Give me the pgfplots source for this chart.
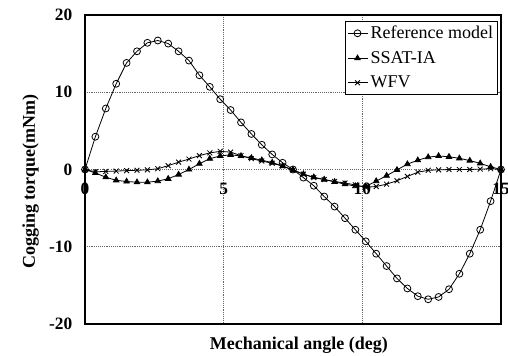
\documentclass[border=0pt]{standalone}
\usepackage{fontspec}
\setmainfont{Liberation Serif}
\usepackage{pgfplots}
\usepackage{pgfplotstable}
\pgfplotsset{compat=1.18}

\pgfplotstableread{
x      ref    ssat   wfv
0      0      0      0
0.375  4.25   -0.45  -0.3
0.75   7.9    -1.0   -0.25
1.125  11.1   -1.4   -0.2
1.5    13.8   -1.55  -0.15
1.875  15.3   -1.65  -0.1
2.25   16.4   -1.65  -0.05
2.625  16.7   -1.5   0.1
3.0    16.3   -1.2   0.5
3.375  15.3   -0.65  0.95
3.75   14.1   0.0    1.35
4.125  12.2   0.75   1.8
4.5    10.7   1.4    2.15
4.875  9.1    1.75   2.35
5.25   7.7    1.9    2.25
5.625  6.1    1.75   1.8
6.0    4.6    1.5    1.4
6.375  3.2    1.2    1.1
6.75   1.95   0.9    0.8
7.125  0.87   0.45   0.45
7.5    0.0    -0.05  -0.1
7.875  -1.05  -0.6   -0.6
8.25   -2.1   -1.0   -1.05
8.625  -3.5   -1.3   -1.3
9.0    -4.8   -1.6   -1.55
9.375  -6.3   -1.9   -1.75
9.75   -7.8   -2.15  -2.0
10.125 -9.3   -2.2   -2.3
10.5   -10.9  -1.5   -2.2
10.875 -12.5  -0.8   -1.9
11.25  -14.1  -0.05  -1.45
11.625 -15.4  0.7    -0.9
12.0   -16.4  1.2    -0.35
12.375 -16.8  1.6    -0.1
12.75  -16.5  1.75   -0.05
13.125 -15.5  1.65   0.0
13.5   -13.5  1.45   0.0
13.875 -10.9  1.15   0.0
14.25  -7.8   0.8    0.05
14.625 -4.1   0.35   0.1
15     0      0      0
}\datatable

\begin{document}
\begin{tikzpicture}
\useasboundingbox (-63.75pt,-24pt) rectangle (317.25pt,243pt);
\begin{axis}[
  scale only axis,
  width=312pt, height=231.75pt,
  xmin=0, xmax=15, ymin=-20, ymax=20,
  xtick={0,5,10,15},
  ytick={-20,-10,10,20},
  extra y ticks={0},
  extra y tick style={grid style={solid, black!75, line width=0.6pt}},
  grid=major,
  major grid style={densely dotted, black!60, line width=0.5pt},
  major tick length=0pt,
  axis line style={black, line width=0.8pt},
  /pgf/number format/assume math mode=true,
  ticklabel style={font=\fontsize{13}{15}\selectfont\bfseries},
  xticklabel style={yshift=109pt},
  yticklabel style={xshift=-6pt},
  xlabel={Mechanical angle (deg)},
  ylabel={Cogging torque(mNm)},
  label style={font=\fontsize{13.5}{16}\selectfont\bfseries},
  xlabel style={at={(axis description cs:0.514,-0.069)}, anchor=center},
  ylabel style={at={(axis description cs:-0.131,0.46)}, anchor=center},
  legend style={at={(rel axis cs:0.993,0.981)}, anchor=north east,
    font=\fontsize{13.5}{16}\selectfont, draw=black, line width=0.6pt,
    inner sep=1.5pt, row sep=4pt, cells={anchor=west}},
  legend image code/.code={\draw[mark repeat=2,mark phase=2,#1] plot coordinates {(0pt,0pt)(7.5pt,0pt)(15pt,0pt)};},
]
\addplot[black, line width=0.6pt, mark=o, mark size=2.6pt, mark options={line width=0.6pt}] table[x=x,y=ref] {\datatable};
\addlegendentry{Reference model}
\addplot[black, line width=0.6pt, mark=triangle*, mark size=2.4pt] table[x=x,y=ssat] {\datatable};
\addlegendentry{SSAT-IA}
\addplot[black, line width=0.6pt, mark=x, mark size=2.6pt, mark options={line width=0.6pt}] table[x=x,y=wfv] {\datatable};
\addlegendentry{WFV}
\end{axis}
\end{tikzpicture}
\end{document}
